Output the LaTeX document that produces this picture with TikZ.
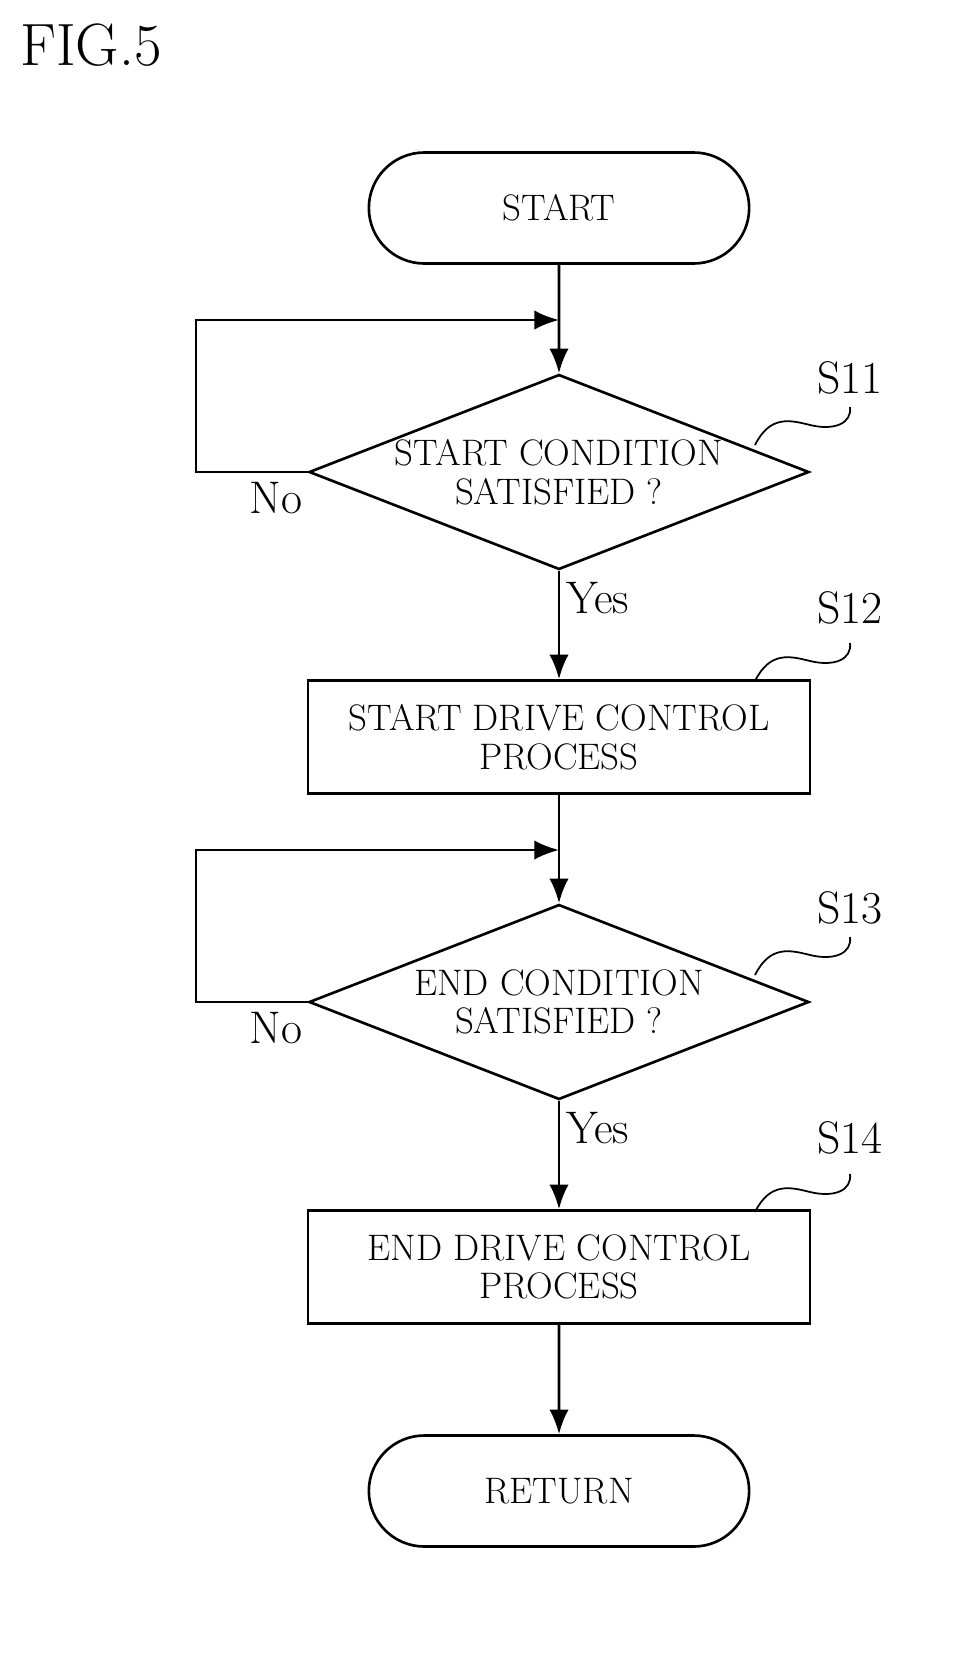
\documentclass[tikz,border=0pt]{standalone}
\usetikzlibrary{shapes.geometric,shapes.misc,arrows.meta,positioning}
\tikzset{term/.style={draw, line width=1.5pt, rounded rectangle, minimum width=392*0.02cm, minimum height=111*0.02cm, align=center, font=\fontsize{21}{22}\selectfont}}
\tikzset{proc/.style={draw, line width=1.5pt, minimum width=502*0.02cm, minimum height=113*0.02cm, align=center, font=\fontsize{21}{22}\selectfont}}
\tikzset{dec/.style={draw, line width=1.5pt, diamond, aspect=2.56, minimum width=500*0.02cm, minimum height=195*0.02cm, inner sep=-8pt, align=center, font=\fontsize{21}{22}\selectfont}}
\tikzset{lab/.style={font=\fontsize{26}{26}\selectfont}}
\tikzset{flow/.style={line width=1.5pt, -{Latex[length=14pt,width=11pt]}}}
\begin{document}
\begin{tikzpicture}[x=0.02cm, y=-0.02cm]
  \useasboundingbox (0,0) rectangle (962,1660);
  \node [anchor=north west, font=\fontsize{34}{34}\selectfont] (fig) at (14,18) {FIG.5};

  \node [term] (start) at (559,208) {START};
  \node [dec] (s11) at (559,472) {START CONDITION\\SATISFIED ?};
  \node [proc] (s12) at (559,737) {START DRIVE CONTROL\\PROCESS};
  \node [dec] (s13) at (559,1002) {END CONDITION\\SATISFIED ?};
  \node [proc] (s14) at (559,1267) {END DRIVE CONTROL\\PROCESS};
  \node [term] (ret) at (559,1491) {RETURN};

  \coordinate (j1) at (559,320);
  \coordinate (j2) at (559,850);

  % main flow
  \draw [flow] (start) -- (s11);
  \draw [flow] (s11) -- node [lab, right, pos=0.25] {Yes} (s12);
  \draw [flow] (s12) -- (s13);
  \draw [flow] (s13) -- node [lab, right, pos=0.25] {Yes} (s14);
  \draw [flow] (s14) -- (ret);

  % No loops
  \draw [flow] (s11.west) -- (196,472) -- (196,320) -- (j1);
  \draw [flow] (s13.west) -- (196,1002) -- (196,850) -- (j2);
  \node [lab] (no1) at (276,498) {No};
  \node [lab] (no2) at (276,1028) {No};

  % step labels
  \node [lab] (l11) at (850,378) {S11};
  \node [lab] (l12) at (850,608) {S12};
  \node [lab] (l13) at (850,908) {S13};
  \node [lab] (l14) at (850,1138) {S14};
  \foreach \y in {445,975,681,1212} {
    \draw [line width=1pt] (755,\y) .. controls (770,\y-30) and (790,\y-25) .. (810,\y-20)
      .. controls (835,\y-14) and (852,\y-22) .. (850,\y-38);
  }
\end{tikzpicture}
\end{document}
